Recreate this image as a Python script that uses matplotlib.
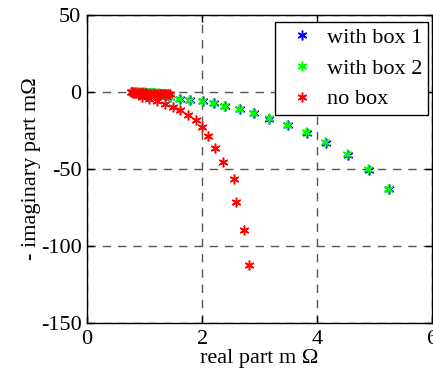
import matplotlib.pyplot as plt

plt.rcParams['font.family'] = ['Liberation Serif', 'DejaVu Serif']
plt.rcParams['font.size'] = 16
plt.rcParams['axes.unicode_minus'] = False

# low-frequency end of the sweep (dense cluster near the origin)
box1_re = [0.80, 0.83, 0.86, 0.89, 0.92, 0.95, 0.98, 1.01, 1.04, 1.07, 1.10, 1.13, 1.16, 1.19, 1.22,
           1.25, 1.28, 1.31, 1.34, 1.37, 1.40,
           1.45, 1.61, 1.79, 2.01, 2.20, 2.39, 2.65, 2.90, 3.17, 3.49, 3.82, 4.15, 4.53, 4.90, 5.25]
box1_im = [-0.2, -0.3, -0.3, -0.4, -0.4, -0.5, -0.5, -0.6, -0.6, -0.7, -0.8, -0.8, -0.9, -1.0, -1.1,
           -1.2, -1.3, -1.4, -1.5, -1.7, -1.9,
           -3.4, -4.6, -5.3, -5.9, -7.3, -9.3, -11.3, -13.9, -17.2, -21.7, -26.4, -32.9, -40.6, -50.5, -63.1]

box2_re = [0.80, 0.83, 0.86, 0.89, 0.92, 0.95, 0.98, 1.01, 1.04, 1.07, 1.10, 1.13, 1.16, 1.19, 1.22,
           1.25, 1.28, 1.31, 1.34, 1.37, 1.40,
           1.44, 1.60, 1.78, 2.00, 2.19, 2.38, 2.64, 2.89, 3.16, 3.47, 3.80, 4.13, 4.51, 4.88, 5.23]
box2_im = [0.0, 0.0, -0.1, -0.1, -0.2, -0.2, -0.3, -0.3, -0.4, -0.4, -0.5, -0.5, -0.6, -0.7, -0.8,
           -0.9, -1.0, -1.1, -1.2, -1.4, -1.6,
           -3.2, -4.4, -5.0, -5.6, -7.1, -9.1, -11.0, -13.6, -16.9, -21.4, -26.0, -32.5, -40.3, -50.2, -62.8]

nobox_re = [0.76, 0.78, 0.80, 0.82, 0.84, 0.86, 0.88, 0.90, 0.92, 0.94, 0.96, 0.98, 1.00, 1.02, 1.05,
            1.08, 1.11, 1.14, 1.17, 1.20, 1.23, 1.26, 1.29, 1.32, 1.35, 1.38, 1.41, 1.44,
            0.95, 1.08, 1.22, 1.35, 1.49, 1.61, 1.76, 1.89, 2.00, 2.11, 2.23, 2.37, 2.55, 2.59, 2.73, 2.81]
nobox_im = [-0.3, -0.3, -0.4, -0.4, -0.5, -0.5, -0.6, -0.6, -0.7, -0.7, -0.8, -0.8, -0.9, -0.9, -1.0,
            -1.0, -1.1, -1.1, -1.2, -1.2, -1.2, -1.3, -1.3, -1.3, -1.4, -1.4, -1.4, -1.5,
            -3.4, -4.5, -5.6, -7.8, -9.9, -11.7, -14.9, -18.2, -22.5, -28.4, -36.2, -45.6, -56.6, -71.2, -89.6, -112.3]

fig = plt.figure(figsize=(4.33, 3.81), dpi=100)
ax = fig.add_axes([0.2009, 0.152, 0.7975, 0.8086])

mk = dict(marker=(6, 2, 0), linestyle='none', markersize=7, markeredgewidth=1.1)
ax.plot(box1_re, box1_im, color='b', label='with box 1', **mk)
ax.plot(box2_re, box2_im, color='lime', label='with box 2', **mk)
ax.plot(nobox_re, nobox_im, color='r', label='no box', **mk)

ax.set_xlim(0, 6)
ax.set_ylim(-150, 50)
ax.set_xticks([0, 2, 4, 6])
ax.set_yticks([-150, -100, -50, 0, 50])
ax.grid(True, linestyle=(0, (6, 5)), color='#555555', linewidth=1.0)
ax.tick_params(direction='in', top=True, right=True, length=5, width=1)
ax.tick_params(axis='x', pad=5)
ax.tick_params(axis='y', pad=4)
for s in ax.spines.values():
    s.set_linewidth(1.0)

ax.set_xlabel('real part m Ω', labelpad=0)
ax.set_ylabel('- imaginary part mΩ', labelpad=0)

leg = ax.legend(loc='upper right', bbox_to_anchor=(0.988, 0.977), fancybox=False,
                framealpha=1, edgecolor='black', borderpad=0.25, labelspacing=0.45,
                handlelength=1.9, handletextpad=0.2, borderaxespad=0)
leg.get_frame().set_linewidth(1.0)

plt.savefig('out.png', dpi=100)
